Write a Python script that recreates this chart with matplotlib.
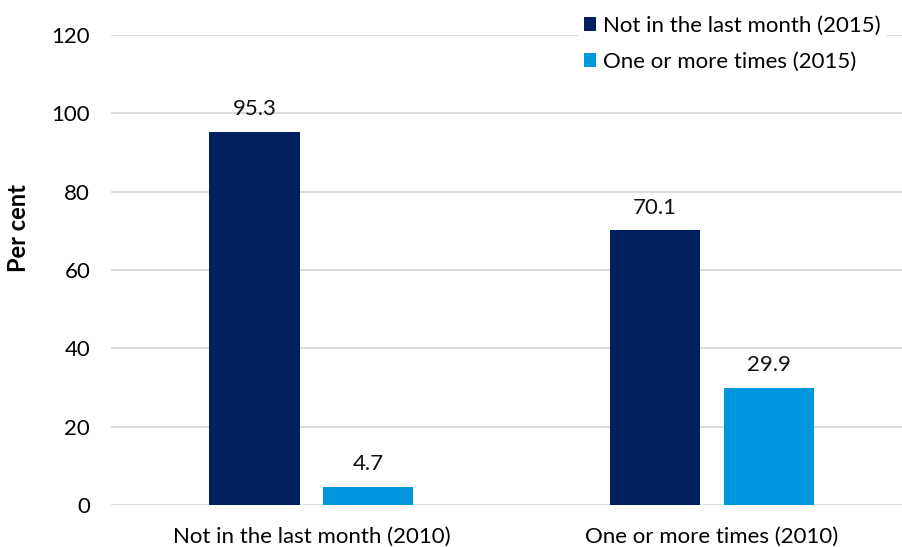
import numpy as np
import matplotlib.pyplot as plt

plt.rcParams['font.family'] = ['Lato', 'DejaVu Sans']

categories = ["Not in the last month (2010)", "One or more times (2010)"]
series_names = ["Not in the last month (2015)", "One or more times (2015)"]
not_last_month = [95.3, 70.1]
one_or_more = [4.7, 29.9]
yticks = [0, 20, 40, 60, 80, 100, 120]

dark = "#002060"
light = "#0097DE"

W, H = 902, 547
fig = plt.figure(figsize=(W / 100, H / 100), dpi=100)
ax = fig.add_axes([111 / W, 1 - 505 / H, (902 - 111) / W, (505 - 35) / H])

x = np.arange(len(categories))
bw = 0.225
off = 0.142
b1 = ax.bar(x - off, not_last_month, bw, color=dark, label=series_names[0], zorder=3)
b2 = ax.bar(x + off, one_or_more, bw, color=light, label=series_names[1], zorder=3)

for bars in (b1, b2):
    for r in bars:
        ax.text(r.get_x() + r.get_width() / 2, r.get_height() + 3.3, f"{r.get_height():.1f}",
                ha="center", va="bottom", fontsize=16, color="#111111")

ax.set_xlim(-0.5, 1.474)
ax.set_ylim(0, 120)
ax.set_yticks(yticks)
ax.set_xticks(x)
ax.set_xticklabels(categories, fontsize=16)
ax.tick_params(axis="y", labelsize=16, length=0, pad=15)
ax.tick_params(axis="x", length=0, pad=16)
ax.grid(axis="y", color="#d9d9d9", linewidth=1.3, zorder=0)
for s in ax.spines.values():
    s.set_visible(False)
ax.set_ylabel("Per cent", fontsize=17, fontweight="bold")
ax.yaxis.set_label_coords(-0.102, 0.589)

leg = ax.legend(loc="upper right", bbox_to_anchor=(0.978, 1.05), frameon=True, fontsize=16,
                handlelength=0.55, handleheight=0.55, handletextpad=0.3, labelspacing=0.72,
                borderaxespad=0, borderpad=0.2)
leg.get_frame().set_facecolor("white")
leg.get_frame().set_edgecolor("white")
leg.get_frame().set_alpha(1)

fig.savefig("out.png", dpi=100)
